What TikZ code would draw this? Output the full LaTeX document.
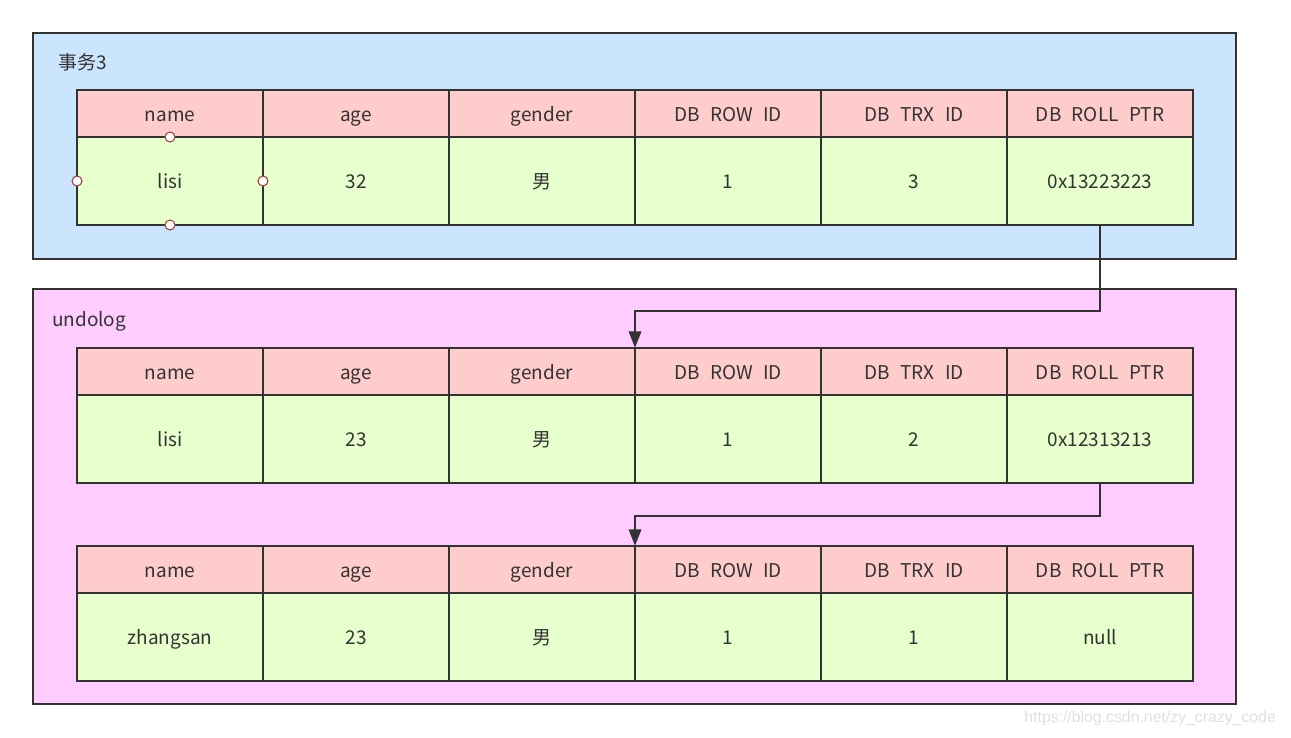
\documentclass[tikz,border=0pt]{standalone}
\usepackage{fontspec}
\setmainfont{Noto Sans CJK SC}
\newfontfamily\markfont{Liberation Sans}
\usetikzlibrary{arrows.meta}

\definecolor{inkgray}{HTML}{333333}
\definecolor{trxblue}{HTML}{CCE5FF}
\definecolor{undopink}{HTML}{FFCCFF}
\definecolor{headred}{HTML}{FFCCCC}
\definecolor{datagreen}{HTML}{E6FFCC}
\definecolor{handlered}{HTML}{A33A3A}
\newcommand{\wsp}{\hspace{0.55em}}

\tikzset{
  cell/.style={draw=inkgray, line width=1.5pt, inner sep=0pt, outer sep=0pt,
    minimum width=3.72cm, text=inkgray, text height=1.95ex, text depth=0.35ex,
    font=\fontsize{10.8}{12}\selectfont},
  headcell/.style={cell, fill=headred, minimum height=0.94cm},
  datacell/.style={cell, fill=datagreen, minimum height=1.76cm},
  panel/.style={draw=inkgray, line width=1.5pt},
  flow/.style={draw=inkgray, line width=1.5pt, -{Triangle[length=9.5pt,width=7pt]}},
  handle/.style={circle, draw=handlered, fill=white, line width=0.6pt,
    inner sep=0pt, minimum size=0.2cm}
}

\begin{document}
\begin{tikzpicture}[x=0.02cm, y=-0.02cm]
  \useasboundingbox[fill=white] (0,0) rectangle (1291,737);

  % panels
  \draw[panel, fill=trxblue] (33,33) rectangle (1236,259);
  \draw[panel, fill=undopink] (33,289) rectangle (1236,704);
  \node[anchor=west, text=inkgray, font=\fontsize{10.8}{12}\selectfont] (trxlabel) at (52,62) {事务3};
  \node[anchor=west, text=inkgray, font=\fontsize{10.8}{12}\selectfont] (undolabel) at (46,321) {undolog};

  % tables: header row and data row
  \foreach \t/\top in {1/90, 2/348, 3/546}
  {
    \foreach \h [count=\i] in {name,age,gender,DB\wsp ROW\wsp ID,DB\wsp TRX\wsp ID,DB\wsp ROLL\wsp PTR}
      \node[headcell] (t\t h\i) at ({77+186*(\i-1)+93}, {\top+23.5}) {\h};
  }
  \foreach \v [count=\i] in {lisi,32,男,1,3,0x13223223}
    \node[datacell] (t1d\i) at ({77+186*(\i-1)+93}, 181) {\v};
  \foreach \v [count=\i] in {lisi,23,男,1,2,0x12313213}
    \node[datacell] (t2d\i) at ({77+186*(\i-1)+93}, 439) {\v};
  \foreach \v [count=\i] in {zhangsan,23,男,1,1,null}
    \node[datacell] (t3d\i) at ({77+186*(\i-1)+93}, 637) {\v};

  % roll pointers
  \coordinate (bend1) at (0,311);
  \coordinate (bend2) at (0,516);
  \draw[flow] (t1d6.south) -- (t1d6.south |- bend1) -| (t2h4.north west);
  \draw[flow] (t2d6.south) -- (t2d6.south |- bend2) -| (t3h4.north west);

  % selection handles
  \node[handle] (hn) at (t1d1.north) {};
  \node[handle] (hs) at (t1d1.south) {};
  \node[handle] (hw) at (t1d1.west) {};
  \node[handle] (he) at (t1d1.east) {};

  % watermark
  \node[anchor=east, text=black!12, font=\markfont\fontsize{9}{11}\selectfont] (mark) at (1282,718) {https://blog.csdn.net/zy\_crazy\_code};
\end{tikzpicture}
\end{document}
